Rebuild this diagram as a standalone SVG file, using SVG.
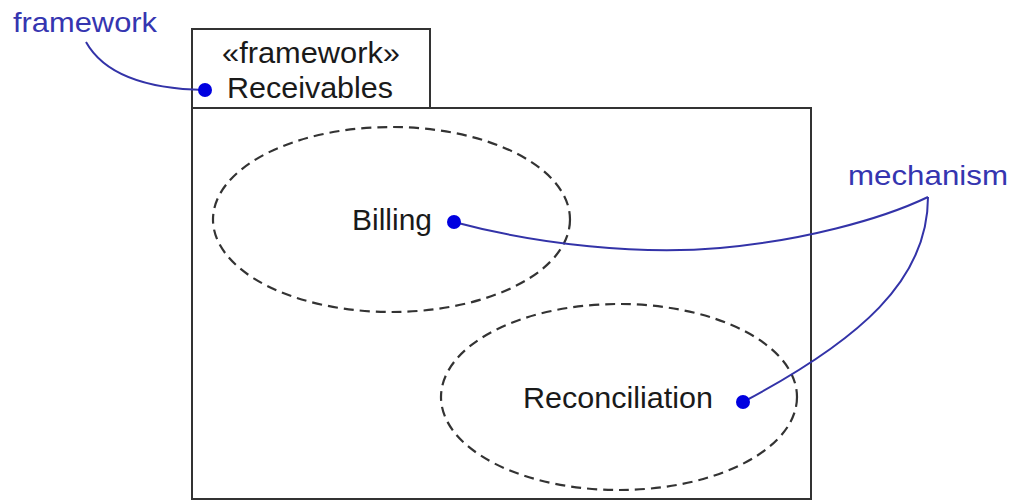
<svg xmlns="http://www.w3.org/2000/svg" width="1011" height="501" viewBox="0 0 1011 501">
<style>
.box{fill:none;stroke:#333;stroke-width:2}
.dash{fill:none;stroke:#333;stroke-width:2.2;stroke-dasharray:10 6}
.lbl{font-family:"Liberation Sans",Arial,sans-serif;font-size:30px;fill:#1a1a1a}
.note{font-family:"Liberation Sans",Arial,sans-serif;font-size:28px;fill:#3535b0}
.conn{fill:none;stroke:#3333a8;stroke-width:2}
.dot{fill:#0000e0}
</style>
<rect width="1011" height="501" fill="#fff"/>
<g id="package-receivables">
<rect class="box" x="192" y="29" width="238" height="79"/>
<rect class="box" x="192" y="108" width="619" height="391"/>
<text class="lbl" x="222" y="63" textLength="178" lengthAdjust="spacingAndGlyphs">«framework»</text>
<text class="lbl" x="227" y="98" textLength="166" lengthAdjust="spacingAndGlyphs">Receivables</text>
</g>
<g id="collab-billing">
<ellipse class="dash" cx="391.5" cy="219.5" rx="178.5" ry="92.5"/>
<text class="lbl" x="352" y="230" textLength="80" lengthAdjust="spacingAndGlyphs">Billing</text>
</g>
<g id="collab-reconciliation">
<ellipse class="dash" cx="619" cy="397" rx="178" ry="93"/>
<text class="lbl" x="523" y="408" textLength="190" lengthAdjust="spacingAndGlyphs">Reconciliation</text>
</g>
<g id="note-framework">
<text class="note" x="13" y="32" textLength="144" lengthAdjust="spacingAndGlyphs">framework</text>
</g>
<g id="note-mechanism">
<text class="note" x="848" y="185" textLength="160" lengthAdjust="spacingAndGlyphs">mechanism</text>
</g>
<g id="connectors">
<path class="conn" d="M86,42 C105,76 150,89 205,90"/>
<path class="conn" d="M454,222 C540,245 640,255 720,248 C800,241 880,220 928,197"/>
<path class="conn" d="M928,197 C928,280 860,340 743,402"/>
<circle class="dot" cx="205" cy="90" r="7"/>
<circle class="dot" cx="454" cy="222" r="7"/>
<circle class="dot" cx="743" cy="402" r="7"/>
</g>
</svg>
